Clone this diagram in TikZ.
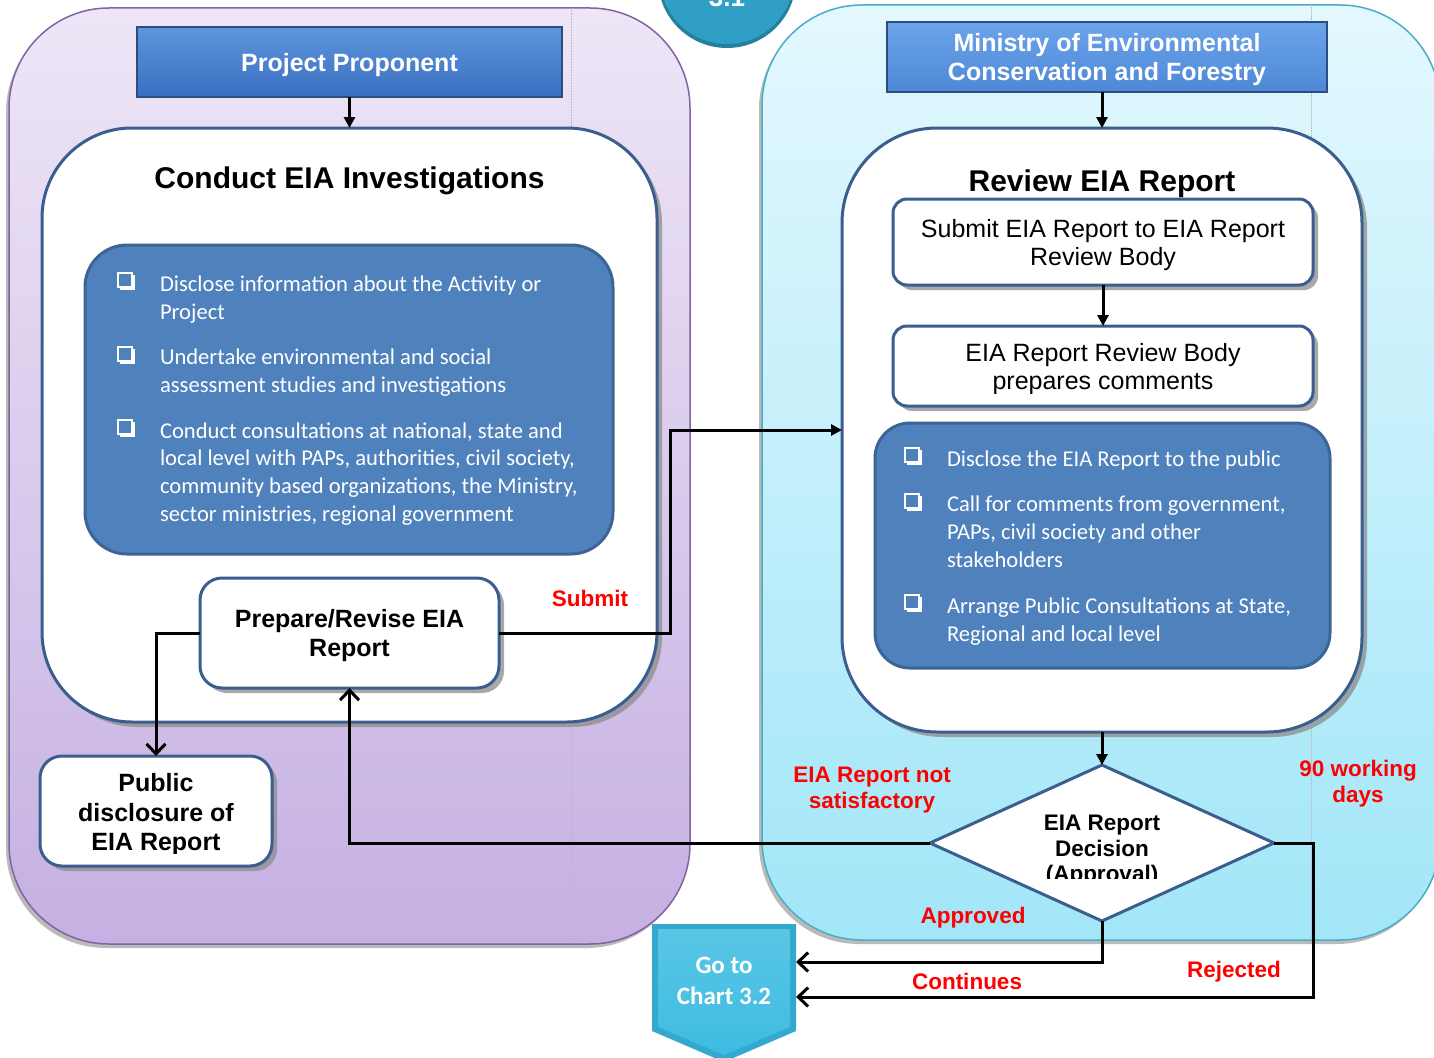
\documentclass[tikz,border=0pt]{standalone}
\usepackage{fontspec}
\setmainfont{Liberation Sans}
\newfontfamily\calfont{Carlito}
\usetikzlibrary{arrows.meta,shapes.geometric,shadows}
\definecolor{dkblue}{HTML}{3A5E8E}
\definecolor{midblue}{HTML}{4F81BD}
\definecolor{midblueb}{HTML}{3C6494}
\definecolor{panLt}{HTML}{EEE6F7}
\definecolor{panLb}{HTML}{C5B0E2}
\definecolor{panLd}{HTML}{8064A2}
\definecolor{panRt}{HTML}{E3F8FE}
\definecolor{panRb}{HTML}{A2E6F8}
\definecolor{panRd}{HTML}{4BACC6}
\definecolor{ppt}{HTML}{5E95DC}
\definecolor{ppb}{HTML}{3A6FC0}
\definecolor{mint}{HTML}{6BA4EA}
\definecolor{minb}{HTML}{4E87D6}
\definecolor{hdrd}{HTML}{2C4D7E}
\definecolor{tabc}{HTML}{2F9FC6}
\definecolor{tabd}{HTML}{25809F}
\definecolor{gotoa}{HTML}{33A9D0}
\definecolor{gotob}{HTML}{3DBCE1}
\definecolor{lblred}{HTML}{FF0000}
\begin{document}
\begin{tikzpicture}[x=1pt,y=-1pt,
  every node/.style={inner sep=0pt,outer sep=0pt},
  panelL/.style={draw=panLd,line width=1.5pt,rounded corners=100pt,top color=panLt,bottom color=panLb,
    drop shadow={shadow xshift=-3pt,shadow yshift=-4pt,fill=black!45,opacity=0.6}},
  panelR/.style={draw=panRd,line width=1.5pt,rounded corners=100pt,top color=panRt,bottom color=panRb,
    drop shadow={shadow xshift=-3pt,shadow yshift=-4pt,fill=black!45,opacity=0.6}},
  wbox/.style={draw=dkblue,line width=3pt,fill=white,
    drop shadow={shadow xshift=5pt,shadow yshift=-5pt,fill=black!45,opacity=0.75}},
  bluebox/.style={draw=midblueb,line width=3pt,fill=midblue},
  hdrbox/.style={draw=hdrd,line width=1.2pt},
  hdrtxt/.style={font=\fontsize{25}{29}\selectfont\bfseries,text=white,align=center},
  conn/.style={line width=3pt,draw=black},
  arrT/.style={conn,-{Triangle[length=11pt,width=11pt]}},
  arrB/.style={conn,-{Straight Barb[length=10pt,width=19pt,line width=3pt]}},
  redlbl/.style={text=lblred,font=\fontsize{22.5}{26}\selectfont\bfseries,align=center},
  btxt/.style={text=white,font=\calfont\fontsize{22.6}{27.6}\selectfont,align=left,anchor=base west},
  ttl/.style={font=\fontsize{30}{34}\selectfont\bfseries},
  boxtxt/.style={font=\fontsize{25}{29.5}\selectfont\bfseries,align=center},
  regtxt/.style={font=\fontsize{25}{28}\selectfont,align=center},
  chk/.pic={
    \draw[white,line width=1.8pt] (-8,-8) rectangle (6,6);
    \fill[white] (-6,6) rectangle (9,9);
    \fill[white] (6,-6) rectangle (9,9);
  }
]
\useasboundingbox (0,0) rectangle (1434,1057);

% panels
\node[panelL,minimum width=681pt,minimum height=936pt] (panL) at (349.5,476) {};
\node[panelR,minimum width=678pt,minimum height=935pt] (panR) at (1101,472.5) {};
\draw[gray!55,densely dotted,line width=0.6pt] (571,8) -- (571,944);
\draw[gray!55,densely dotted,line width=0.6pt] (1311,5) -- (1311,940);

% top tab
\fill[tabd] (727,-21) circle (69);
\fill[tabc] (727,-23) circle (67);
\node[text=white,font=\fontsize{26}{30}\selectfont\bfseries,anchor=base] (tab) at (727,7) {3.1};

% header boxes
\node[hdrbox,top color=ppt,bottom color=ppb,minimum width=425pt,minimum height=70pt] (pp) at (349.5,62) {};
\node[hdrtxt] (ppt) at (349.5,65) {Project Proponent};
\node[hdrbox,top color=mint,bottom color=minb,minimum width=440pt,minimum height=70pt] (mecf) at (1107,57) {};
\node[hdrtxt] (mecft) at (1107,60) {Ministry of Environmental\\Conservation and Forestry};

% main white boxes
\node[wbox,rounded corners=90pt,minimum width=615pt,minimum height=594pt] (cond) at (349.5,425) {};
\node[ttl] (condt) at (349.5,181) {Conduct EIA Investigations};
\node[wbox,rounded corners=95pt,minimum width=520pt,minimum height=604pt] (review) at (1102,430) {};
\node[ttl] (reviewt) at (1102,184) {Review EIA Report};

% left blue list
\node[bluebox,rounded corners=42pt,minimum width=528pt,minimum height=309pt] (lblue) at (349,399.5) {};
\pic at (126,281) {chk};
\pic at (126,355) {chk};
\pic at (126,428) {chk};
\node[btxt] (la) at (160,319) {Disclose information about the Activity or\\Project};
\node[btxt] (lb) at (160,392) {Undertake environmental and social\\assessment studies and investigations};
\node[btxt] (lc) at (160,521) {Conduct consultations at national, state and\\local level with PAPs, authorities, civil society,\\community based organizations, the Ministry,\\sector ministries, regional government};

% prepare and public boxes
\node[wbox,rounded corners=22pt,minimum width=299pt,minimum height=110pt] (prep) at (349.5,633) {};
\node[boxtxt] (prept) at (349.5,635.5) {Prepare/Revise EIA\\Report};
\node[wbox,rounded corners=22pt,minimum width=232pt,minimum height=110pt] (pub) at (156,811) {};
\begin{scope}
\clip (45,760) rectangle (268,853);
\node[boxtxt] (pubt) at (156,815) {Public\\disclosure of\\EIA Report};
\end{scope}

% right side boxes
\node[wbox,rounded corners=14pt,minimum width=420pt,minimum height=86pt] (sub) at (1103,242) {};
\node[regtxt] (subt) at (1103,245) {Submit EIA Report to EIA Report\\Review Body};
\node[wbox,rounded corners=14pt,minimum width=420pt,minimum height=80pt] (body) at (1103,366) {};
\begin{scope}
\clip (896,330) rectangle (1310,393);
\node[regtxt] (bodyt) at (1103,369.5) {EIA Report Review Body\\prepares comments};
\end{scope}

\node[bluebox,rounded corners=35pt,minimum width=455pt,minimum height=245pt] (rblue) at (1102.5,545.5) {};
\pic at (913,456) {chk};
\pic at (913,502) {chk};
\pic at (913,603) {chk};
\node[btxt] (ra) at (947,466) {Disclose the EIA Report to the public};
\node[btxt] (rb) at (947,567) {Call for comments from government,\\PAPs, civil society and other\\stakeholders};
\node[btxt] (rc) at (947,641) {Arrange Public Consultations at State,\\Regional and local level};

% decision diamond
\node[diamond,draw=dkblue,line width=3pt,fill=white,minimum width=344pt,minimum height=156pt] (dec) at (1102,843) {};
\begin{scope}
\clip (940,790) rectangle (1264,878);
\node[align=center,font=\fontsize{22.5}{25.5}\selectfont\bfseries] (dect) at (1102,851) {EIA Report\\Decision\\(Approval)};
\end{scope}

% go to chart shape
\node[minimum width=144pt,minimum height=106pt] (goto) at (724,977) {};
\fill[gotoa] (652,924) -- (796,924) -- (796,1031) -- (724,1062) -- (652,1031) -- cycle;
\shade[top color=gotob!85!white,bottom color=gotob] (658,929) -- (790,929) -- (790,1027) -- (724,1055) -- (658,1027) -- cycle;
\node[text=white,align=center,font=\calfont\fontsize{25}{31}\selectfont\bfseries] (gotot) at (724,981) {Go to\\Chart 3.2};

% connectors
\draw[arrT] (pp.south) -- (cond.north);
\draw[arrT] (mecf.south -| review.north) -- (review.north);
\draw[arrT] (sub.south) -- (body.north);
\coordinate (j1) at (670,430);
\draw[arrT] (prep.east) -| (j1) -- (j1 -| review.west);
\draw[arrB] (prep.west) -| (pub.north);
\draw[arrT] (review.south) -- (dec.north);
\draw[arrB] (dec.west) -| (prep.south);
\draw[arrB] (dec.south) |- ([yshift=15pt]goto.east);
\coordinate (j2) at (1313,843);
\draw[arrB] (dec.east) -- (j2) |- ([yshift=-20pt]goto.east);

% labels
\node[redlbl] (lsub) at (590,598) {Submit};
\node[redlbl] (lnot) at (872,790.5) {EIA Report not\\satisfactory};
\node[redlbl] (l90) at (1358,784) {90 working\\days};
\node[redlbl] (lapp) at (973,918) {Approved};
\node[redlbl] (lcont) at (967,981.5) {Continues};
\node[redlbl] (lrej) at (1234,972) {Rejected};
\end{tikzpicture}
\end{document}
